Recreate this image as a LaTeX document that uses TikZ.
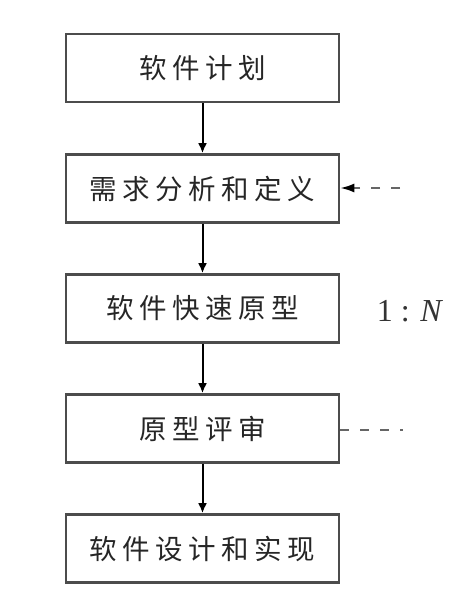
\documentclass[tikz,border=0pt]{standalone}
\usepackage{fontspec}
\setmainfont{Liberation Serif}
\newfontfamily\cjk{Noto Sans CJK SC}[LetterSpace=20]
\usetikzlibrary{arrows.meta}
\begin{document}
\begin{tikzpicture}[x=1pt,y=-1pt,
  stage/.style={draw=black!70,line width=2.6pt,minimum width=273pt,minimum height=68pt,
    inner sep=0pt,font=\cjk\fontsize{27.5}{30}\selectfont,text=black!85},
  flow/.style={line width=2pt,-{Latex[length=10pt,width=9pt]}},
  fb/.style={line width=2pt,draw=black!60,dash pattern=on 9pt off 11pt}]
\useasboundingbox (0,0) rectangle (470,609);
\node[stage] (b1) at (202.5,68) {软件计划};
\node[stage] (b2) at (202.5,188.5) {需求分析和定义};
\node[stage] (b3) at (202.5,308.5) {软件快速原型};
\node[stage] (b4) at (202.5,428.5) {原型评审};
\node[stage] (b5) at (202.5,548.5) {软件设计和实现};
\draw[flow] (b1) -- (b2);
\draw[flow] (b2) -- (b3);
\draw[flow] (b3) -- (b4);
\draw[flow] (b4) -- (b5);
\coordinate (r2) at (400,188);
\coordinate (r4) at (403,430);
\draw[fb,-{Latex[length=14pt,width=9pt,fill=black,color=black]}] (r2) -- (b2.east |- r2);
\draw[fb] (b4.east |- r4) -- (r4);
\node[font=\fontsize{32}{36}\selectfont,text=black!80] (ratio) at (410,311) {1 : \textit{N}};
\end{tikzpicture}
\end{document}
